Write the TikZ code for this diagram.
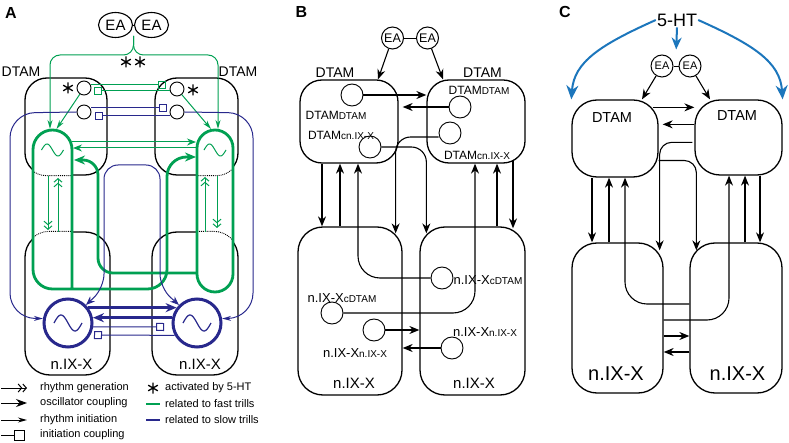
\documentclass[tikz,border=0pt]{standalone}
\usepackage{fontspec}
\setmainfont{Liberation Sans}
\usetikzlibrary{arrows.meta,calc,shapes.geometric}

\definecolor{fastgreen}{RGB}{0,160,82}
\definecolor{slowblue}{RGB}{40,40,140}
\definecolor{htblue}{RGB}{28,118,188}

\newcommand{\fsz}[1]{\fontsize{#1}{#1}\selectfont}
\newcommand{\sbs}[1]{{\fsz{10}#1}}

\tikzset{
  astk/.pic={\draw[line width=1.3pt] (0,-5.5) -- (0,5.5) (-4.8,-2.8) -- (4.8,2.8) (-4.8,2.8) -- (4.8,-2.8);},
}

\begin{document}
\begin{tikzpicture}[x=1pt, y=-1pt,
  box/.style={draw, line width=1.3pt, rounded corners=22pt, inner sep=0pt},
  nuc/.style={draw, line width=1.3pt, rounded corners=25pt, inner sep=0pt},
  cell/.style={draw, circle, line width=0.9pt, inner sep=0pt},
  eacell/.style={draw, circle, line width=1pt, inner sep=0pt},
  bosc/.style={draw=slowblue, circle, line width=3pt, minimum size=48pt, inner sep=0pt},
  lbl/.style={font=\bfseries\fsz{16}},
  txt/.style={inner sep=0pt, font=\fsz{14}},
  leg/.style={inner sep=0pt, anchor=west, font=\fsz{11}},
  arr/.style={line width=1.1pt, -{Stealth[length=10pt,width=8pt]}},
  gthin/.style={draw=fastgreen, line width=1pt},
  gthick/.style={draw=fastgreen, line width=2.8pt},
  bthin/.style={draw=slowblue, line width=1pt},
  bthick/.style={draw=slowblue, line width=2.8pt},
  rinit/.style={-{Stealth[open,length=9pt,width=5pt]}},
  rgen/.style={-{Straight Barb[length=3.5pt,width=8pt] Straight Barb[length=3.5pt,width=8pt]}},
  ocpl/.style={-{Stealth[length=11pt,width=9pt]}},
  tcpl/.style={-{Stealth[length=9pt,width=7pt]}},
  icpl/.style={-{Square[open,length=8pt,width=8pt]}},
]
\useasboundingbox (0,0) rectangle (789,443);

% ---- A ----
\node[lbl] (lblA) at (11,13) {A};
\node[draw, ellipse, line width=1.1pt, minimum width=34pt, minimum height=25pt, inner sep=0pt, font=\fsz{15}] (eaAL) at (115.5,25) {EA};
\node[draw, ellipse, line width=1.1pt, minimum width=34pt, minimum height=25pt, inner sep=0pt, font=\fsz{15}] (eaAR) at (151.5,25) {EA};
\draw[line width=0.9pt] (eaAL.east) -- (eaAR.west);
\coordinate (eaA) at (133.5,36);

\node[box, minimum width=82pt, minimum height=97pt] (dAL) at (66,126.5) {};
\node[box, minimum width=83pt, minimum height=97pt] (dAR) at (196.5,126.5) {};
\node[nuc, minimum width=85pt, minimum height=143pt] (nAL) at (67.5,303.5) {};
\node[nuc, minimum width=86pt, minimum height=143pt] (nAR) at (195,303.5) {};
\node[txt] (tAL) at (21,71.5) {DTAM};
\node[txt] (tAR) at (238,71.5) {DTAM};
\node[txt, font=\fsz{15}] (xAL) at (71.5,364) {n.IX-X};
\node[txt, font=\fsz{15}] (xAR) at (200,364) {n.IX-X};

% capsules hide the boxes, the covered edges are dotted
\fill[white, rounded corners=19.5] (72,289) -- (72,130) -- (33,130) -- (33,289) -- cycle;
\fill[white, rounded corners=18] (197,292) -- (197,130) -- (233,130) -- (233,292) -- cycle;
\begin{scope}
  \clip[rounded corners=19.5] (72,289) -- (72,130) -- (33,130) -- (33,289) -- cycle;
  \draw[densely dotted, line width=0.9pt, rounded corners=22pt] (dAL.north west) rectangle (dAL.south east);
  \draw[densely dotted, line width=0.9pt, rounded corners=25pt] (nAL.north west) rectangle (nAL.south east);
\end{scope}
\begin{scope}
  \clip[rounded corners=18] (197,292) -- (197,130) -- (233,130) -- (233,292) -- cycle;
  \draw[densely dotted, line width=0.9pt, rounded corners=22pt] (dAR.north west) rectangle (dAR.south east);
  \draw[densely dotted, line width=0.9pt, rounded corners=25pt] (nAR.north west) rectangle (nAR.south east);
\end{scope}

\coordinate (gtopL) at (52.5,130);
\coordinate (gtopR) at (215,130);
\draw[gthick, ocpl, rounded corners=19.5] (72,289) -- (72,130) -- (33,130) -- (33,289) -- (167,289) -- (167,157) -- (196,157);
\draw[gthick, rounded corners=18] (197,200) -- (197,130) -- (233,130) -- (233,292) -- (197,292) -- cycle;
\draw[gthick, ocpl, rounded corners=15] (197,273) -- (98,273) -- (98,160) -- (74,160);
\draw[gthin, tcpl] (72,142) -- (196,142);
\draw[gthin, tcpl] (197,148) -- (73,148);
\draw[gthin] plot[domain=-11:11, samples=40] ({52.5+\x}, {150+6*sin(\x*16.4)});
\draw[gthin] plot[domain=-11:11, samples=40] ({215+\x}, {150+6*sin(\x*16.4)});
\draw[gthin, rgen] (48,176) -- (48,230);
\draw[gthin, rgen] (58,232) -- (58,178);
\draw[gthin, rgen] (205,232) -- (205,177);
\draw[gthin, rgen] (217,176) -- (217,228);

\node[cell, minimum size=14pt] (cgL) at (84,88) {};
\node[cell, minimum size=14pt] (cbL) at (84,112) {};
\node[cell, minimum size=14pt] (cgR) at (177,89) {};
\node[cell, minimum size=14pt] (cbR) at (177,112) {};
\pic at (68,88) {astk};
\pic at (193,90) {astk};
\pic at (126,62) {astk};
\pic at (140,62) {astk};

\draw[gthin, rinit, rounded corners=10] (eaA) -- (133.5,55) -- (50,55) -- ($(gtopL)+(-2.5,-1)$);
\draw[gthin, rinit, rounded corners=10] (eaA) -- (133.5,55) -- (218,55) -- ($(gtopR)+(3,-1)$);
\draw[gthin, rinit] (cgL) -- ($(gtopL)+(4,-1)$);
\draw[gthin, rinit] (cgR) -- ($(gtopR)+(-4,-1)$);
\draw[gthin, icpl] (cgL.east |- 0,85) -- (166,85);
\draw[gthin, icpl] (cgR.west |- 0,91) -- (94,91);
\draw[bthin, icpl] (cbL.east |- 0,108) -- (167,108);
\draw[bthin, icpl] (cbR.west |- 0,116) -- (95,116);

\node[bosc] (oBL) at (68,323) {};
\node[bosc] (oBR) at (197,323) {};
\draw[slowblue, line width=1.2pt] plot[domain=-14:14, samples=40] ({68+\x}, {323+8*sin(\x*12.86)});
\draw[slowblue, line width=1.2pt] plot[domain=-14:14, samples=40] ({197+\x}, {323+8*sin(\x*12.86)});
\draw[bthin, rinit, rounded corners=25] (cbL.west) -- (10,113) -- (10,318) -- (oBL.170);
\draw[bthin, rinit, rounded corners=25] (cbR.east) -- (253,113) -- (253,318) -- (oBR.10);
\draw[bthin, {Stealth[length=9pt,width=7pt]}-{Stealth[length=9pt,width=7pt]}, rounded corners=14] (oBL.north east) -- (104,288) -- (104,165) -- (160,165) -- (160,288) -- (oBR.north west);
\draw[bthick, ocpl] (oBL.37) -- (oBR.143);
\draw[bthick, ocpl] (oBR.168) -- (oBL.12);
\draw[bthin, icpl] (oBL.-9) -- (164,327);
\draw[bthin, icpl] (oBR.-151) -- (94,335);

% legend
\draw[line width=1pt, rgen] (1,388) -- (27,388);
\draw[line width=1pt, -{Stealth[length=11pt,width=8pt]}] (1,403) -- (27,403);
\draw[line width=1pt, rinit] (1,420) -- (27,420);
\draw[line width=1pt, -{Square[open,length=11pt,width=11pt]}] (1,435) -- (25,435);
\node[leg] (lg1) at (40,388) {rhythm generation};
\node[leg] (lg2) at (40,403) {oscillator coupling};
\node[leg] (lg3) at (40,420) {rhythm initiation};
\node[leg] (lg4) at (40,435) {initiation coupling};
\pic at (153,388) {astk};
\draw[gthick] (146,404) -- (160,404);
\draw[bthick] (146,420) -- (160,420);
\node[leg] (lg5) at (165,388) {activated by 5-HT};
\node[leg] (lg6) at (165,404) {related to fast trills};
\node[leg] (lg7) at (165,420) {related to slow trills};

% ---- B ----
\node[lbl] (lblB) at (301.5,12) {B};
\node[eacell, minimum size=22pt, font=\fsz{12.5}] (eaBL) at (392.5,38) {EA};
\node[eacell, minimum size=22pt, font=\fsz{12.5}] (eaBR) at (427.5,38) {EA};
\draw[line width=0.9pt] (eaBL) -- (eaBR);
\node[box, minimum width=98pt, minimum height=83pt] (dBL) at (349,121.5) {};
\node[box, minimum width=98pt, minimum height=83pt] (dBR) at (476,121.5) {};
\node[nuc, minimum width=104pt, minimum height=168pt] (nBL) at (350,311) {};
\node[nuc, minimum width=105pt, minimum height=168pt] (nBR) at (472.5,311) {};
\node[txt] (tBL) at (335,73) {DTAM};
\node[txt] (tBR) at (482.5,73) {DTAM};
\node[txt, font=\fsz{15}] (xBL) at (354,383) {n.IX-X};
\node[txt, font=\fsz{15}] (xBR) at (474,383) {n.IX-X};

\node[cell, minimum size=22pt] (bdL) at (352,95) {};
\node[cell, minimum size=22pt] (bcL) at (370,147) {};
\node[cell, minimum size=22pt] (bdR) at (460,107) {};
\node[cell, minimum size=22pt] (bcR) at (450,133) {};
\node[cell, minimum size=22pt] (bnL1) at (332,313) {};
\node[cell, minimum size=22pt] (bnL2) at (374,330) {};
\node[cell, minimum size=22pt] (bnR1) at (442,278) {};
\node[cell, minimum size=22pt] (bnR2) at (452,348) {};
\node[txt, font=\fsz{12}] (sBL1) at (336,115) {DTAM\sbs{DTAM}};
\node[txt, font=\fsz{12}] (sBL2) at (341,135) {DTAM\sbs{cn.IX-X}};
\node[txt, font=\fsz{12}] (sBR1) at (479,90) {DTAM\sbs{DTAM}};
\node[txt, font=\fsz{12}] (sBR2) at (477,155) {DTAM\sbs{cn.IX-X}};
\node[txt, font=\fsz{13}] (sBL3) at (342,298) {n.IX-X\sbs{cDTAM}};
\node[txt, font=\fsz{13}] (sBL4) at (355,353) {n.IX-X\sbs{n.IX-X}};
\node[txt, font=\fsz{13}] (sBR3) at (488,280) {n.IX-X\sbs{cDTAM}};
\node[txt, font=\fsz{13}] (sBR4) at (485,332) {n.IX-X\sbs{n.IX-X}};

\draw[arr] (eaBL) -- (dBL.north -| 378,0);
\draw[arr] (eaBR) -- (dBR.north -| 443,0);
\draw[arr] (bdL) -- (dBR.west |- bdL);
\draw[arr] (bdR) -- ($(dBL.east |- bdR)+(4,0)$);
\draw[arr, rounded corners=15] (bcL.east) -| ($(nBR.north west)+(7,7)$);
\draw[arr, rounded corners=15] (bcR.west |- 0,137) -| ($(nBL.north east)+(-7,7)$);
\draw[arr] (dBL.south -| 322,0) -- (nBL.north -| 322,0);
\draw[arr] (nBL.north -| 340,0) -- (dBL.south -| 340,0);
\draw[arr, rounded corners=22] (bnR1.west) -| (dBL.south -| 358,0);
\draw[arr, rounded corners=22] (bnL1.east) -| (dBR.south -| 475,0);
\draw[arr] (nBR.north -| 497,0) -- (dBR.south -| 497,0);
\draw[arr] ($(dBR.south -| 513,0)+(0,-3)$) -- ($(nBR.north -| 513,0)+(0,2)$);
\draw[arr] (bnL2) -- (nBR.west |- bnL2);
\draw[arr] (bnR2) -- (nBL.east |- bnR2);

% ---- C ----
\node[lbl] (lblC) at (565,12) {C};
\node[inner sep=1pt, font=\fsz{18}] (ht) at (677,20) {5-HT};
\node[eacell, minimum size=22pt, font=\fsz{11}] (eaCL) at (662,66) {EA};
\node[eacell, minimum size=22pt, font=\fsz{11}] (eaCR) at (690,66) {EA};
\draw[line width=0.9pt] (eaCL) -- (eaCR);
\node[nuc, minimum width=86pt, minimum height=77pt] (dCL) at (615,138.5) {};
\node[nuc, minimum width=87pt, minimum height=75pt] (dCR) at (738.5,137.5) {};
\node[nuc, minimum width=91pt, minimum height=150pt] (nCL) at (617.5,318) {};
\node[nuc, minimum width=92pt, minimum height=150pt] (nCR) at (736,318) {};
\node[txt, font=\fsz{14.5}] (tCL) at (612,117.5) {DTAM};
\node[txt, font=\fsz{14.5}] (tCR) at (737,116) {DTAM};
\node[txt, font=\fsz{20}] (xCL) at (616,373.5) {n.IX-X};
\node[txt, font=\fsz{20}] (xCR) at (737.5,373.5) {n.IX-X};

\draw[htblue, line width=2pt, -{Stealth[length=14pt,width=12pt]}] (ht.west) .. controls (600,45) and (574,62) .. (dCL.north west);
\draw[htblue, line width=2pt, -{Stealth[length=14pt,width=12pt]}] (ht.east) .. controls (754,45) and (780,62) .. (dCR.north east);
\draw[htblue, line width=2pt, -{Stealth[length=12pt,width=10pt]}, shorten >=5pt] (ht.south) -- ($(eaCL.north)!0.5!(eaCR.north)$);
\draw[arr] (eaCL) -- (dCL.north -| 642,0);
\draw[arr] (eaCR) -- (dCR.north -| 710,0);
\draw[arr] ($(dCL.north east)+(-6,8)$) -- ($(dCR.north west)+(0,8)$);
\draw[arr] ($(dCR.north west)+(0,25)$) -- ($(dCL.north east)+(4,25)$);
\draw[arr, rounded corners=12] ($(dCR.north west)+(-2,43)$) -| ($(nCL.north east)+(-4,8)$);
\draw[arr, rounded corners=12] ($(dCL.east)+(0,22)$) -| ($(nCR.north west)+(7,8)$);
\draw[arr] (dCL.south -| 592,0) -- (nCL.north -| 592,0);
\draw[arr] (nCL.north -| 609,0) -- (dCL.south -| 609,0);
\draw[arr, rounded corners=22] (nCR.west |- 0,304) -| (dCL.south -| 625,0);
\draw[arr, rounded corners=22] (nCL.east |- 0,320) -| (dCR.south -| 729,0);
\draw[arr] (nCR.north -| 745,0) -- (dCR.south -| 745,0);
\draw[arr] (dCR.south -| 760,0) -- (nCR.north -| 760,0);
\draw[arr] (nCL.east |- 0,336) -- (nCR.west |- 0,336);
\draw[arr] (nCR.west |- 0,352) -- (nCL.east |- 0,352);
\end{tikzpicture}
\end{document}
